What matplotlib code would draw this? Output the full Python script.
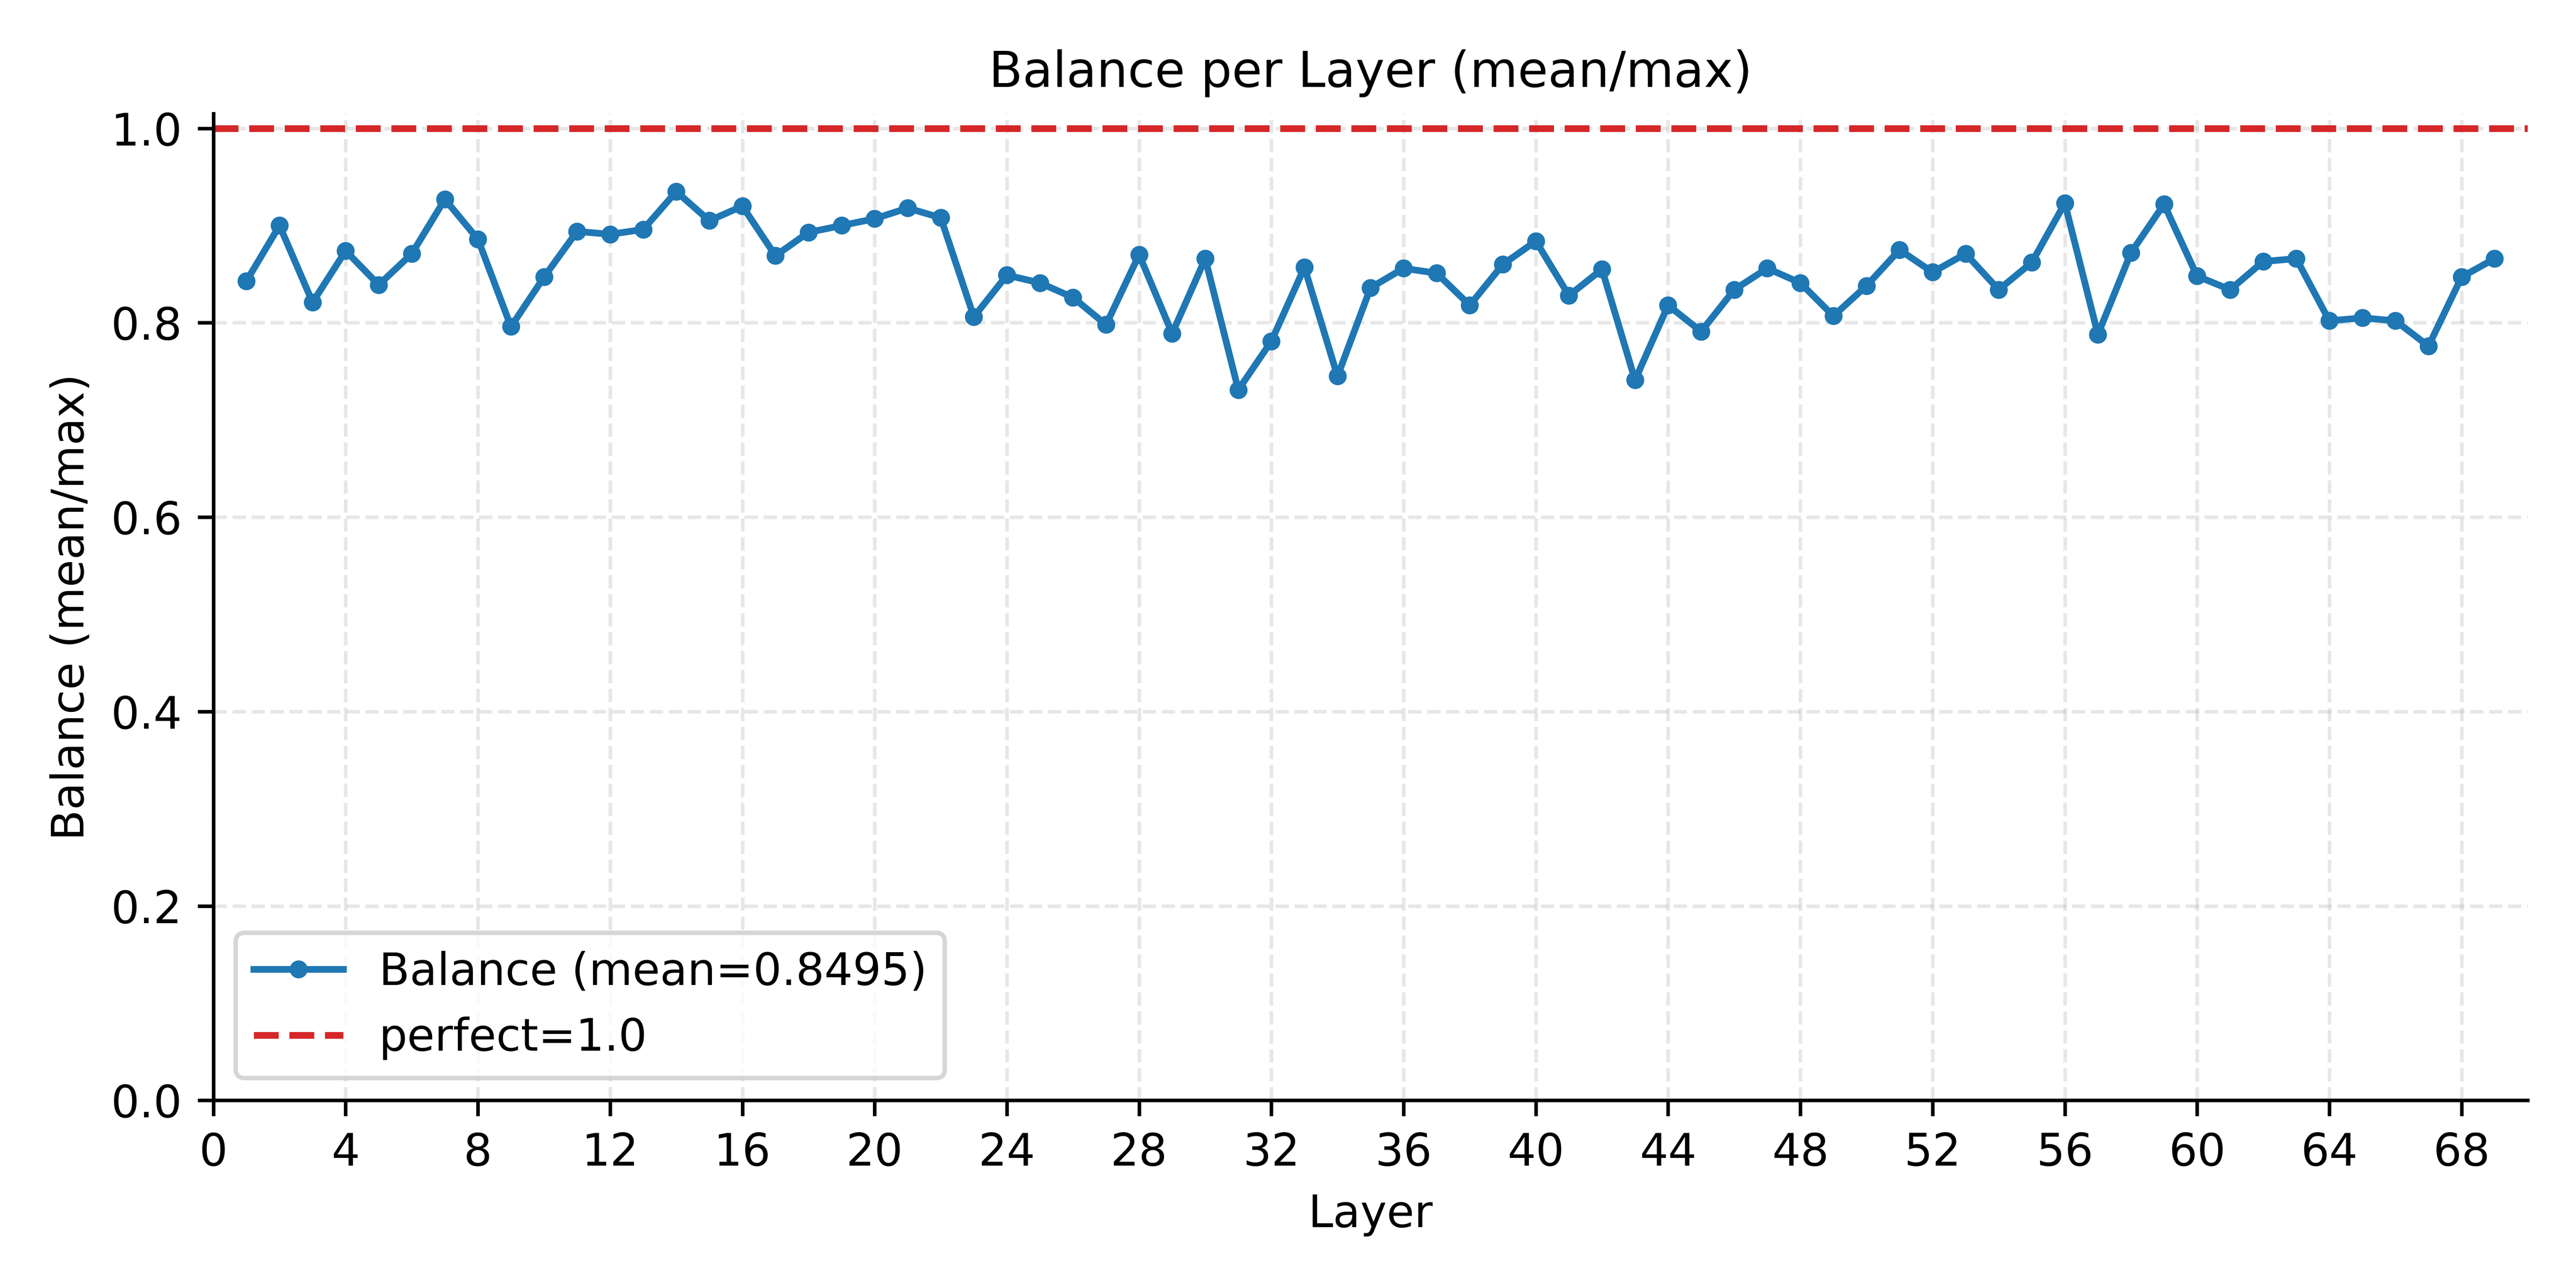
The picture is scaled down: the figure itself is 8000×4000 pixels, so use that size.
import numpy as np
import matplotlib
matplotlib.use("Agg")
import matplotlib.pyplot as plt

layers = np.arange(1, 70)
balance = [
    0.843, 0.900, 0.821, 0.874, 0.839, 0.871, 0.927, 0.886, 0.796, 0.847,
    0.894, 0.891, 0.896, 0.935, 0.905, 0.920, 0.869, 0.893, 0.900, 0.907,
    0.918, 0.908, 0.806, 0.849, 0.841, 0.826, 0.798, 0.870, 0.789, 0.866,
    0.731, 0.781, 0.857, 0.745, 0.836, 0.856, 0.851, 0.818, 0.860, 0.884,
    0.828, 0.855, 0.741, 0.818, 0.791, 0.834, 0.856, 0.841, 0.807, 0.838,
    0.875, 0.852, 0.871, 0.834, 0.862, 0.923, 0.788, 0.872, 0.922, 0.848,
    0.834, 0.863, 0.866, 0.802, 0.805, 0.802, 0.776, 0.847, 0.866,
]
mean_label = "0.8495"
perfect = 1.0
xticks = np.arange(0, 69, 4)

fig, ax = plt.subplots(figsize=(8, 4))

ax.plot(layers, balance, marker='o', markersize=3, linewidth=1.5,
        color='tab:blue', label=f'Balance (mean={mean_label})')
ax.axhline(perfect, color='tab:red', linestyle='--', linewidth=1.5,
           label=f'perfect={perfect}')

ax.set_xlim(0, 70)
ax.set_ylim(0, 1.015)
ax.set_xticks(xticks)
ax.set_xlabel('Layer')
ax.set_ylabel('Balance (mean/max)')
ax.set_title('Balance per Layer (mean/max)', fontsize=11)
ax.grid(True, linestyle='--', alpha=0.3)
ax.spines['top'].set_visible(False)
ax.spines['right'].set_visible(False)
ax.legend(loc='lower left')

plt.tight_layout()
plt.savefig('out.png', dpi=1000)
